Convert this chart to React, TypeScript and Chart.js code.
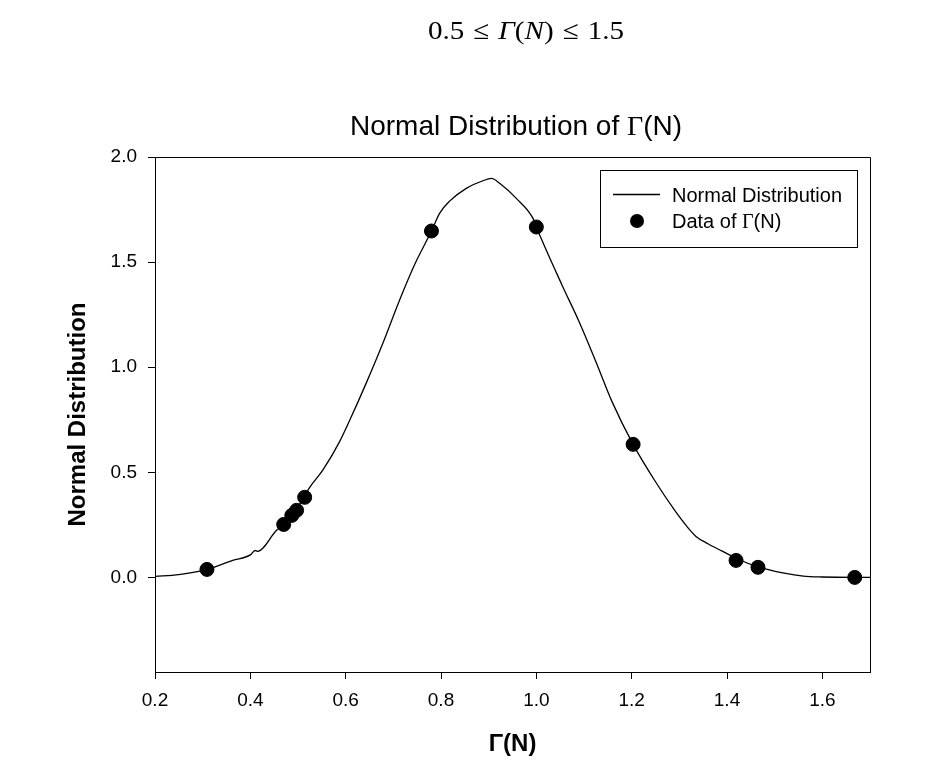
import React, { useEffect, useRef } from "react";
import { Chart, registerables } from "chart.js";

Chart.register(...registerables);

// Normal distribution curve
const curveX = [0.2, 0.25, 0.31, 0.363, 0.4, 0.41, 0.415, 0.455, 0.47, 0.49, 0.525, 0.552, 0.587, 0.608, 0.644, 0.678, 0.713, 0.745, 0.78, 0.797, 0.818, 0.853, 0.888, 0.906, 0.923, 0.958, 0.993, 1.0, 1.054, 1.09, 1.126, 1.159, 1.203, 1.25, 1.29, 1.315, 1.335, 1.36, 1.39, 1.42, 1.465, 1.52, 1.56, 1.6, 1.7];
const curveY = [0.005, 0.013, 0.038, 0.081, 0.107, 0.128, 0.124, 0.224, 0.252, 0.3, 0.43, 0.51, 0.645, 0.745, 0.929, 1.114, 1.319, 1.49, 1.648, 1.732, 1.79, 1.851, 1.887, 1.898, 1.875, 1.803, 1.708, 1.667, 1.39, 1.215, 1.02, 0.835, 0.633, 0.455, 0.32, 0.245, 0.195, 0.16, 0.125, 0.09, 0.05, 0.02, 0.006, 0.002, 0.0];

// Data of Γ(N)
const dataX = [0.309, 0.47, 0.487, 0.497, 0.514, 0.78, 1.0, 1.203, 1.419, 1.465, 1.668];
const dataY = [0.038, 0.252, 0.295, 0.319, 0.381, 1.648, 1.667, 0.633, 0.081, 0.048, 0.0];

const xTickValues = [0.2, 0.4, 0.6, 0.8, 1.0, 1.2, 1.4, 1.6];
const yTickValues = [0.0, 0.5, 1.0, 1.5, 2.0];

const X_MIN = 0.2;
const X_MAX = 1.7;
const Y_MIN = -0.45;
const Y_MAX = 2.0;

const SANS = '"Liberation Sans", Arial, sans-serif';
const SERIF = '"Liberation Serif", "Times New Roman", serif';

type Part = { t: string; serif?: boolean };

function drawMixed(ctx: CanvasRenderingContext2D, parts: Part[], x: number, y: number, size: number, align: "left" | "center") {
  ctx.save();
  ctx.textBaseline = "alphabetic";
  ctx.textAlign = "left";
  const widths = parts.map((p) => {
    ctx.font = `${size}px ${p.serif ? SERIF : SANS}`;
    return ctx.measureText(p.t).width;
  });
  const total = widths.reduce((a, b) => a + b, 0);
  let cx = align === "center" ? x - total / 2 : x;
  parts.forEach((p, i) => {
    ctx.font = `${size}px ${p.serif ? SERIF : SANS}`;
    ctx.fillStyle = "#000";
    ctx.fillText(p.t, cx, y);
    cx += widths[i];
  });
  ctx.restore();
}

const titleParts: Part[] = [{ t: "Normal Distribution of " }, { t: "Γ", serif: true }, { t: "(N)" }];
const legendLineParts: Part[] = [{ t: "Normal Distribution" }];
const legendDotParts: Part[] = [{ t: "Data of " }, { t: "Γ", serif: true }, { t: "(N)" }];

const decorPlugin = {
  id: "decor",
  afterDraw(chart: any) {
    const ctx: CanvasRenderingContext2D = chart.ctx;
    const a = chart.chartArea;
    ctx.save();
    // top and right frame lines
    ctx.strokeStyle = "#000";
    ctx.lineWidth = 1;
    ctx.beginPath();
    ctx.moveTo(Math.round(a.left) + 0.5, Math.round(a.top) + 0.5);
    ctx.lineTo(Math.round(a.right) + 0.5, Math.round(a.top) + 0.5);
    ctx.lineTo(Math.round(a.right) + 0.5, Math.round(a.bottom) + 0.5);
    ctx.stroke();

    // title
    drawMixed(ctx, titleParts, 516, 135, 28, "center");

    // legend
    ctx.fillStyle = "#fff";
    ctx.fillRect(600.5, 170.5, 257, 77);
    ctx.strokeStyle = "#000";
    ctx.lineWidth = 1;
    ctx.strokeRect(600.5, 170.5, 257, 77);
    ctx.beginPath();
    ctx.lineWidth = 1.3;
    ctx.moveTo(613, 194.5);
    ctx.lineTo(660, 194.5);
    ctx.stroke();
    ctx.beginPath();
    ctx.fillStyle = "#000";
    ctx.arc(637, 221, 7, 0, Math.PI * 2);
    ctx.fill();
    drawMixed(ctx, legendLineParts, 672, 202, 20, "left");
    drawMixed(ctx, legendDotParts, 672, 228, 20, "left");
    ctx.restore();
  },
};

export default function App() {
  const canvasRef = useRef<HTMLCanvasElement | null>(null);

  useEffect(() => {
    const canvas = canvasRef.current;
    if (!canvas) return;
    const chart = new Chart(canvas, {
      type: "scatter",
      data: {
        datasets: [
          {
            label: "Data of Γ(N)",
            data: dataX.map((x, i) => ({ x, y: dataY[i] })),
            backgroundColor: "#000",
            borderColor: "#000",
            pointRadius: 7,
            pointHoverRadius: 7,
            showLine: false,
          },
          {
            label: "Normal Distribution",
            data: curveX.map((x, i) => ({ x, y: curveY[i] })),
            borderColor: "#000",
            backgroundColor: "#000",
            borderWidth: 1.3,
            pointRadius: 0,
            showLine: true,
            cubicInterpolationMode: "monotone",
          },
        ],
      },
      options: {
        responsive: false,
        animation: false,
        devicePixelRatio: 1,
        layout: { padding: { top: 157, right: 60, bottom: 0, left: 0 } },
        plugins: {
          legend: { display: false },
          title: { display: false },
          tooltip: { enabled: false },
        },
        scales: {
          x: {
            type: "linear",
            min: X_MIN,
            max: X_MAX,
            afterFit: (s: any) => {
              s.height = 95;
            },
            afterBuildTicks: (s: any) => {
              s.ticks = xTickValues.map((v) => ({ value: v }));
            },
            grid: { display: true, drawOnChartArea: false, drawTicks: true, tickLength: 7, color: "#000", lineWidth: 1 },
            border: { display: true, color: "#000", width: 1 },
            ticks: {
              color: "#000",
              padding: 10,
              maxRotation: 0,
              font: { family: SANS, size: 19 },
              callback: (v: any) => Number(v).toFixed(1),
            },
            title: {
              display: true,
              text: "Γ(N)",
              color: "#000",
              font: { family: SANS, size: 24, weight: "bold" },
              padding: { top: 0, bottom: 8 },
            },
          },
          y: {
            type: "linear",
            min: Y_MIN,
            max: Y_MAX,
            afterFit: (s: any) => {
              s.width = 155;
            },
            afterBuildTicks: (s: any) => {
              s.ticks = yTickValues.map((v) => ({ value: v }));
            },
            grid: { display: true, drawOnChartArea: false, drawTicks: true, tickLength: 7, color: "#000", lineWidth: 1 },
            border: { display: true, color: "#000", width: 1 },
            ticks: {
              color: "#000",
              padding: 11,
              font: { family: SANS, size: 19 },
              callback: (v: any) => Number(v).toFixed(1),
            },
            title: {
              display: true,
              text: "Normal Distribution",
              color: "#000",
              font: { family: SANS, size: 24, weight: "bold" },
              padding: { top: 64, bottom: 0 },
            },
          },
        },
      },
      plugins: [decorPlugin],
    } as any);
    return () => chart.destroy();
  }, []);

  return (
    <div style={{ position: "fixed", left: 0, top: 0, width: 930, height: 767, background: "#fff" }}>
      <canvas ref={canvasRef} width={930} height={767} style={{ display: "block", width: 930, height: 767 }} />
      <div
        style={{
          position: "absolute",
          left: 526,
          top: 16,
          transform: "translateX(-50%) scaleX(1.12)",
          fontFamily: SERIF,
          fontSize: 26,
          lineHeight: "30px",
          whiteSpace: "nowrap",
          color: "#000",
        }}
      >
        0.5<span style={{ margin: "0 8px" }}>≤</span>
        <i>Γ</i>(<i>N</i>)<span style={{ margin: "0 8px" }}>≤</span>1.5
      </div>
    </div>
  );
}
